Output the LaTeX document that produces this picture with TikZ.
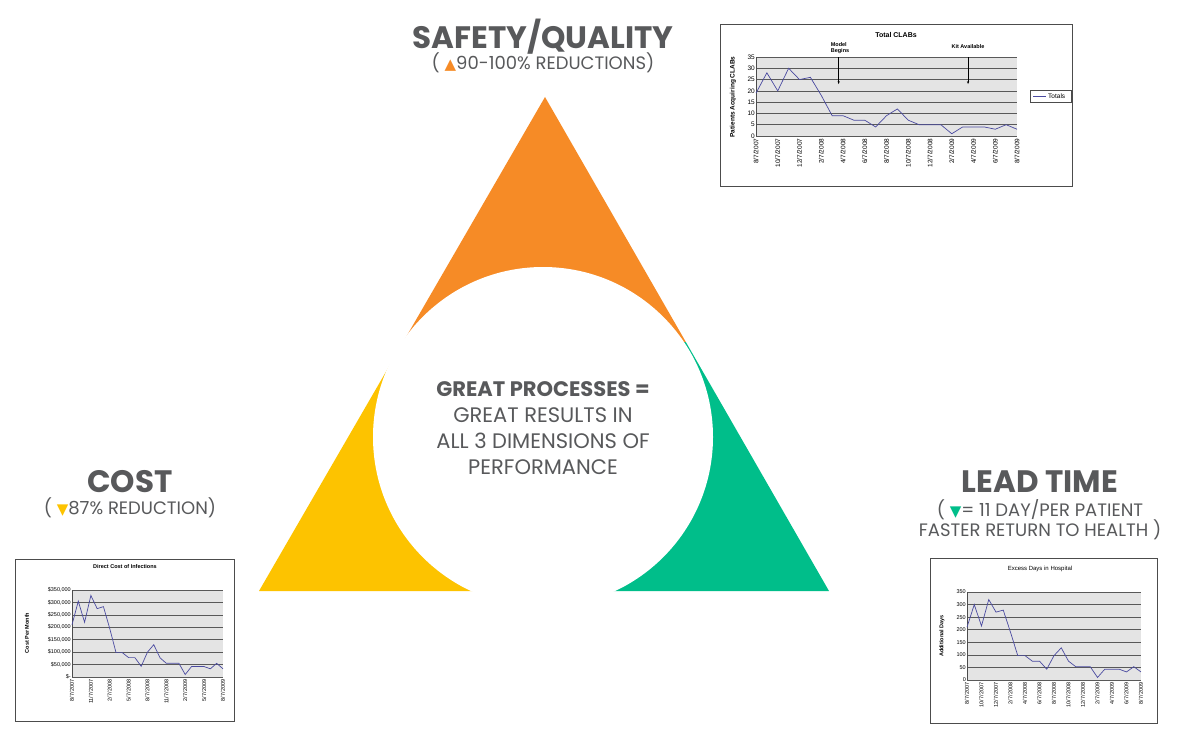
\documentclass[tikz,border=0pt]{standalone}
\usepackage{fontspec}
\usetikzlibrary{arrows.meta}
\setmainfont{Poppins}
\newfontfamily\arialf{Liberation Sans}
\newfontfamily\symf{DejaVu Sans}
\definecolor{orng}{HTML}{F68B26}
\definecolor{yelw}{HTML}{FDC300}
\definecolor{grn}{HTML}{00BE8A}
\definecolor{txt}{HTML}{58595B}
\definecolor{plotbg}{HTML}{E4E4E4}
\definecolor{dataline}{HTML}{4A4AA0}
\tikzset{
 big/.style={font=\fontsize{31}{31}\selectfont\bfseries, text=txt},
 sub/.style={font=\fontsize{18}{18}\selectfont, text=txt},
 ctr/.style={font=\fontsize{21}{21}\selectfont, text=txt, align=center},
 chartbox/.style={draw=black!70, line width=0.6pt, fill=white},
 gridl/.style={draw=black!65, line width=0.6pt},
 dline/.style={draw=dataline, line width=0.7pt},
 tick/.style={font=\arialf\fontsize{6.5}{6.5}\selectfont, inner sep=1pt},
 ctitle/.style={font=\arialf\bfseries\fontsize{7}{7}\selectfont},
}
\begin{document}
\begin{tikzpicture}[x=1pt,y=-1pt]
\useasboundingbox (0,0) rectangle (1200,752);
% triangle
\begin{scope}
\clip (545,97) -- (259,591) -- (829,591) -- cycle;
\fill[orng] (200,80) rectangle (900,342);
\fill[yelw] (200,342) rectangle (540,600);
\fill[grn] (540,342) rectangle (900,600);
\end{scope}
\fill[white] (543,437) circle[radius=170];
% titles
\node[big] (sq) at (543,37) {SAFETY/QUALITY};
\node[sub] (sqs) at (543,63) {( {\color{orng}\symf\fontsize{15}{15}\selectfont ▲}90-100\% REDUCTIONS)};
\node[big] (cost) at (130,482) {COST};
\node[sub] (costs) at (130,508) {( {\color{yelw}\symf\fontsize{15}{15}\selectfont ▼}87\% REDUCTION)};
\node[big] (lt) at (1040,482) {LEAD TIME};
\node[sub, align=center] (lts) at (1040,520) {( {\color{grn}\symf\fontsize{15}{15}\selectfont ▼}= 11 DAY/PER PATIENT\\[-1pt] FASTER RETURN TO HEALTH )};
\node[ctr] (c1) at (543,389) {\bfseries GREAT PROCESSES =};
\node[ctr] (c2) at (543,415) {GREAT RESULTS IN};
\node[ctr] (c3) at (543,441) {ALL 3 DIMENSIONS OF};
\node[ctr] (c4) at (543,467) {PERFORMANCE};

% ---------- top chart
\draw[chartbox] (720,24) rectangle (1072,186);
\node[ctitle] (t1) at (896,35) {Total CLABs};
\begin{scope}[shift={(756,136)}, xscale=10.875, yscale=-2.257]
\fill[plotbg] (0,0) rectangle (24,35);
\foreach \v in {0,5,...,35} {\draw[gridl] (0,\v) -- (24,\v); \node[tick, anchor=east] at (0,\v) {\v};}
\draw[black!70] (0,0) -- (0,35);
\foreach \l [count=\i from 0] in {8/7/2007,10/7/2007,12/7/2007,2/7/2008,4/7/2008,6/7/2008,8/7/2008,10/7/2008,12/7/2008,2/7/2009,4/7/2009,6/7/2009,8/7/2009}
 {\node[tick, rotate=90, anchor=east] at (2*\i,-0.6) {\l};}
\draw[dline] plot coordinates {(0,19) (1,28) (2,20) (3,30) (4,25) (5,26) (6,18) (7,9) (8,9) (9,7) (10,7) (11,4) (12,9) (13,12) (14,7) (15,5) (16,5) (17,5) (18,1) (19,4) (20,4) (21,4) (22,3) (23,5) (24,3)};
\coordinate (m1) at (7.6,35);
\coordinate (m2) at (7.6,23);
\coordinate (k1) at (19.5,35);
\coordinate (k2) at (19.5,23);
\end{scope}
\draw[-{Stealth[length=3pt]}, line width=0.5pt] (m1) -- (m2);
\draw[-{Stealth[length=3pt]}, line width=0.5pt] (k1) -- (k2);
\node[tick, font=\arialf\bfseries\fontsize{5.5}{6.5}\selectfont, align=left] (mb) at (840,48) {Model\\Begins};
\node[tick, font=\arialf\bfseries\fontsize{5.5}{6.5}\selectfont] (ka) at (968,47) {Kit Available};
\node[tick, rotate=90, font=\arialf\bfseries\fontsize{6.5}{6.5}\selectfont] (yl1) at (733,97) {Patients Acquiring CLABs};
\draw[black!70, line width=0.5pt] (1030,90) rectangle (1071,102);
\draw[dline] (1033,96) -- (1046,96);
\node[tick, anchor=west] (leg) at (1047,96) {Totals};

% ---------- bottom-left chart
\draw[chartbox] (15,559) rectangle (234,721);
\node[ctitle, font=\arialf\bfseries\fontsize{5.5}{5.5}\selectfont] (t2) at (125,567) {Direct Cost of Infections};
\begin{scope}[shift={(72,677)}, xscale=6.29, yscale=-0.2486]
\fill[plotbg] (0,0) rectangle (24,350);
\foreach \v/\l in {0/\$-,50/\$50{,}000,100/\$100{,}000,150/\$150{,}000,200/\$200{,}000,250/\$250{,}000,300/\$300{,}000,350/\$350{,}000}
 {\draw[gridl] (0,\v) -- (24,\v); \node[tick, font=\arialf\fontsize{5.5}{5.5}\selectfont, anchor=east] at (0,\v) {\l};}
\draw[black!70] (0,0) -- (0,350);
\foreach \l [count=\i from 0] in {8/7/2007,11/7/2007,2/7/2008,5/7/2008,8/7/2008,11/7/2008,2/7/2009,5/7/2009,8/7/2009}
 {\node[tick, font=\arialf\fontsize{5.5}{5.5}\selectfont, rotate=90, anchor=east] at (3*\i,-6) {\l};}
\draw[dline] plot coordinates {(0,210) (1,305) (2,220) (3,328) (4,275) (5,283) (6,195) (7,98) (8,98) (9,78) (10,78) (11,43) (12,100) (13,130) (14,77) (15,55) (16,55) (17,55) (18,10) (19,42) (20,42) (21,42) (22,33) (23,55) (24,33)};
\end{scope}
\node[tick, rotate=90, font=\arialf\bfseries\fontsize{5.5}{5.5}\selectfont] (yl2) at (27,633) {Cost Per Month};

% ---------- bottom-right chart
\draw[chartbox] (930,558) rectangle (1157,723);
\node[tick, font=\arialf\fontsize{6}{6}\selectfont] (t3) at (1040,569) {Excess Days in Hospital};
\begin{scope}[shift={(967,680)}, xscale=7.25, yscale=-0.2514]
\fill[plotbg] (0,0) rectangle (24,350);
\foreach \v in {0,50,...,350} {\draw[gridl] (0,\v) -- (24,\v); \node[tick, font=\arialf\fontsize{5.5}{5.5}\selectfont, anchor=east] at (0,\v) {\v};}
\draw[black!70] (0,0) -- (0,350);
\foreach \l [count=\i from 0] in {8/7/2007,10/7/2007,12/7/2007,2/7/2008,4/7/2008,6/7/2008,8/7/2008,10/7/2008,12/7/2008,2/7/2009,4/7/2009,6/7/2009,8/7/2009}
 {\node[tick, font=\arialf\fontsize{5.5}{5.5}\selectfont, rotate=90, anchor=east] at (2*\i,-6) {\l};}
\draw[dline] plot coordinates {(0,210) (1,300) (2,215) (3,320) (4,270) (5,278) (6,190) (7,97) (8,97) (9,75) (10,75) (11,43) (12,97) (13,128) (14,75) (15,53) (16,53) (17,53) (18,10) (19,43) (20,43) (21,43) (22,32) (23,53) (24,32)};
\end{scope}
\node[tick, rotate=90, font=\arialf\bfseries\fontsize{5.5}{5.5}\selectfont] (yl3) at (942,636) {Additional Days};
\end{tikzpicture}
\end{document}
